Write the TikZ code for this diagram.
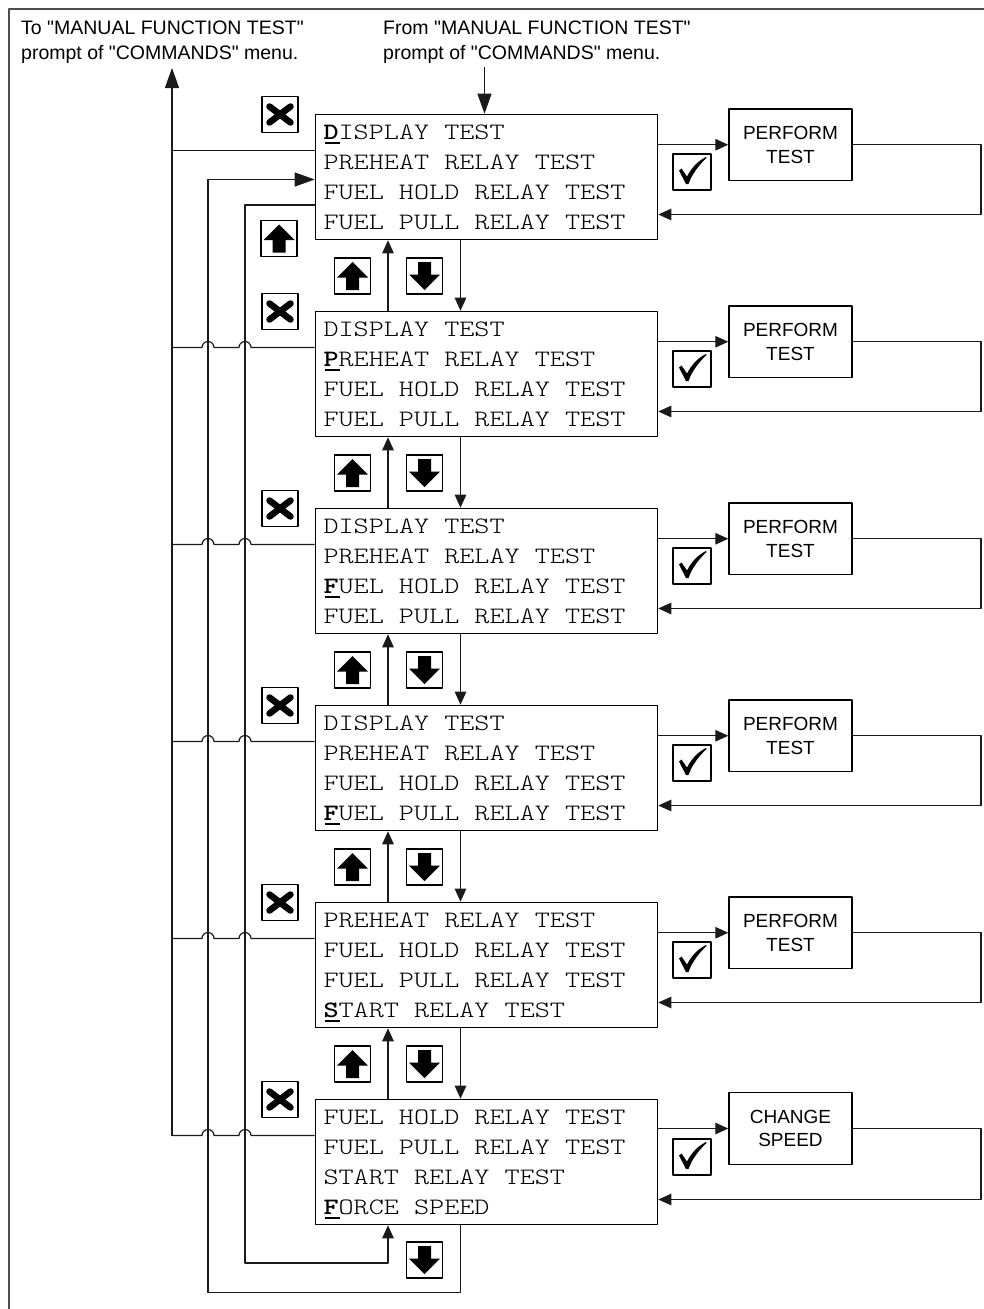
\documentclass[tikz,border=0pt]{standalone}
\usepackage{fontspec}
\setmainfont{Liberation Sans}
\newfontfamily\lcdfont{lmmonolt10-regular}[Extension=.otf, BoldFont=lmmonolt10-bold, FakeStretch=1.224]
\usetikzlibrary{arrows.meta}
\definecolor{ink}{HTML}{1A1A1A}
\newcommand{\lcdspace}{\spaceskip 15.1pt\relax\xspaceskip 15.1pt\relax}
\newcommand{\hotkey}[1]{\leavevmode\rlap{\hspace{1pt}\rule[-5.3pt]{15pt}{2pt}}\textbf{#1}}
\newcommand{\dq}{\textquotedbl}
\tikzset{
  every picture/.style={line join=round, >={Triangle[length=13pt,width=11.5pt]}},
  link/.style={line width=1.2pt, draw=ink},
  bigtip/.style={-{Triangle[length=20pt,width=14pt]}},
  note/.style={align=left, inner sep=0pt, font=\fontsize{19.5}{25}\selectfont},
  menu/.style={draw, line width=1.6pt, align=left, text width=326pt, inner xsep=8pt, inner ysep=4pt,
    text height=20.5pt, text depth=96.5pt, font=\lcdfont\fontsize{23.5}{30}\selectfont,
    execute at begin node=\lcdspace},
  task/.style={draw, line width=1.4pt, minimum width=123pt, minimum height=71.5pt, inner sep=0pt,
    align=center, font=\fontsize{19}{23.5}\selectfont},
  key/.style={draw, line width=1.5pt, minimum size=36pt, inner sep=0pt},
  esckey/.style={key, path picture={
    \draw[line width=6.5pt, line cap=round, shift={(path picture bounding box.center)}]
      (-10.5,-8) -- (10.5,8) (-10.5,8) -- (10.5,-8);}},
  upkey/.style={key, path picture={
    \fill[shift={(path picture bounding box.center)}] (0,-14) -- (15.5,1.5) -- (6.5,1.5)
      -- (6.5,14) -- (-6.5,14) -- (-6.5,1.5) -- (-15.5,1.5) -- cycle;}},
  downkey/.style={key, path picture={
    \fill[shift={(path picture bounding box.center)}] (0,14) -- (15.5,-1.5) -- (6.5,-1.5)
      -- (6.5,-14) -- (-6.5,-14) -- (-6.5,-1.5) -- (-15.5,-1.5) -- cycle;}},
  okkey/.style={key, minimum width=38pt, path picture={
    \fill[shift={(path picture bounding box.center)}] (-13,-1.5) -- (-10.5,-3.5) -- (-5,4.5)
      .. controls (0,-5) and (6,-11) .. (14,-15) -- (14.5,-14)
      .. controls (7,-7) and (0,2) .. (-3.5,12) -- (-6,12) -- cycle;}},
}

\begin{document}
\begin{tikzpicture}[x=1pt,y=-1pt]
\useasboundingbox (0,0) rectangle (984,1309);
\draw[line width=2pt,black!70] (9,1309) -- (9,9) -- (984,9);
\node[note,anchor=north west] (to) at (21,20.5) {To \dq MANUAL FUNCTION TEST\dq\\prompt of \dq COMMANDS\dq{} menu.};
\node[note,anchor=north west] (from) at (383,20.5) {From \dq MANUAL FUNCTION TEST\dq\\prompt of \dq COMMANDS\dq{} menu.};

\node[menu] (m1) at (486.5,177) {\hotkey{D}ISPLAY TEST\\PREHEAT RELAY TEST\\FUEL HOLD RELAY TEST\\FUEL PULL RELAY TEST};
\node[menu] (m2) at (486.5,374) {DISPLAY TEST\\\hotkey{P}REHEAT RELAY TEST\\FUEL HOLD RELAY TEST\\FUEL PULL RELAY TEST};
\node[menu] (m3) at (486.5,571) {DISPLAY TEST\\PREHEAT RELAY TEST\\\hotkey{F}UEL HOLD RELAY TEST\\FUEL PULL RELAY TEST};
\node[menu] (m4) at (486.5,768) {DISPLAY TEST\\PREHEAT RELAY TEST\\FUEL HOLD RELAY TEST\\\hotkey{F}UEL PULL RELAY TEST};
\node[menu] (m5) at (486.5,965) {PREHEAT RELAY TEST\\FUEL HOLD RELAY TEST\\FUEL PULL RELAY TEST\\\hotkey{S}TART RELAY TEST};
\node[menu] (m6) at (486.5,1162) {FUEL HOLD RELAY TEST\\FUEL PULL RELAY TEST\\START RELAY TEST\\\hotkey{F}ORCE SPEED};

\node[task] (t1) at (790.5,144.75) {PERFORM\\TEST};
\node[task] (t2) at (790.5,341.75) {PERFORM\\TEST};
\node[task] (t3) at (790.5,538.75) {PERFORM\\TEST};
\node[task] (t4) at (790.5,735.75) {PERFORM\\TEST};
\node[task] (t5) at (790.5,932.75) {PERFORM\\TEST};
\node[task] (t6) at (790.5,1128.5) {CHANGE\\SPEED};

\coordinate (rise) at (172,68);
\coordinate (upx) at (388,0);
\coordinate (dnx) at (460.5,0);
\coordinate (wrapa) at (208,1292.5);
\coordinate (wrapb) at (245,1263);
\coordinate (fromtail) at (484.5,67);

% right side: select and come back
\foreach \k in {1,...,6}{
  \pgfmathsetmacro\t{114.5+197*(\k-1)}
  \node[okkey] (ok\k) at (692,\t+57.5) {};
  \node[esckey] (esc\k) at (280,\t) {};
  \coordinate (back\k) at (981,\t+100);
  \draw[link,->] (m\k.east |- t\k.west) -- (t\k.west);
  \draw[link,->] (t\k.east) -| (back\k) -- (m\k.east |- back\k);
}

% scrolling between the menus
\foreach \k [evaluate=\k as \n using int(\k+1)] in {1,...,5}{
  \pgfmathsetmacro\t{114.5+197*(\k-1)}
  \draw[link,->] (m\n.north -| upx) -- (m\k.south -| upx);
  \draw[link,->] (m\k.south -| dnx) -- (m\n.north -| dnx);
  \node[upkey] (up\k) at (352.5,\t+161.5) {};
  \node[downkey] (dn\k) at (424.5,\t+161.5) {};
}
\node[upkey] (up0) at (279,238.5) {};
\node[downkey] (dn6) at (424.5,1260) {};

% back to the commands menu
\draw[link] (m1.west |- 0,150.5) -- (rise |- 0,150.5);
\foreach \k in {2,...,6}{
  \pgfmathsetmacro\h{150.5+197*(\k-1)}
  \draw[link] (m\k.west |- 0,\h) -- (251,\h) arc[start angle=0,end angle=180,radius=6pt]
    -- (214,\h) arc[start angle=0,end angle=180,radius=6pt] -- (rise |- 0,\h);
}
\draw[link,bigtip] (rise |- 0,1135.5) -- (rise);
\draw[link,bigtip] (fromtail) -- (m1.north -| fromtail);

% wrap round at both ends
\draw[link,bigtip] (m6.south -| dnx) |- (wrapa) |- (m1.west |- 0,179.5);
\draw[link,->] (m1.west |- 0,205) -| (wrapb) -| (m6.south -| upx);
\end{tikzpicture}
\end{document}
